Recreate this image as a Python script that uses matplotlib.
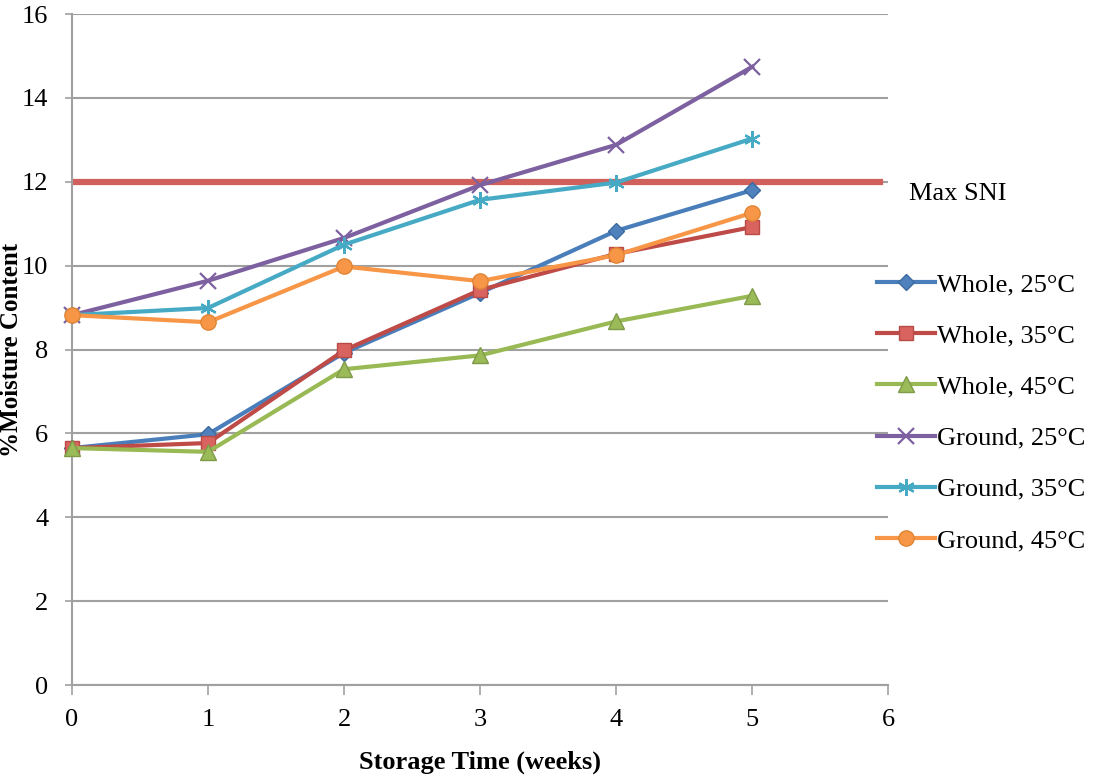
import matplotlib
matplotlib.use("Agg")
import matplotlib.pyplot as plt

weeks = [0, 1, 2, 3, 4, 5]
whole_25 = [5.65, 5.98, 7.92, 9.35, 10.83, 11.8]
whole_35 = [5.65, 5.77, 7.98, 9.42, 10.28, 10.92]
whole_45 = [5.65, 5.56, 7.53, 7.86, 8.67, 9.28]
ground_25 = [8.82, 9.64, 10.66, 11.92, 12.88, 14.74]
ground_35 = [8.82, 8.99, 10.5, 11.57, 11.98, 13.03]
ground_45 = [8.82, 8.65, 9.98, 9.63, 10.25, 11.26]
series_labels = ["Whole, 25°C", "Whole, 35°C", "Whole, 45°C",
                 "Ground, 25°C", "Ground, 35°C", "Ground, 45°C"]
max_sni = 12
x_ticks = [0, 1, 2, 3, 4, 5, 6]
y_ticks = [0, 2, 4, 6, 8, 10, 12, 14, 16]

serif = "Liberation Serif"
fig = plt.figure(figsize=(10.97, 7.78), dpi=100)
ax = fig.add_axes([0.0656, 0.1195, 0.744, 0.8625])

grid_c = "#a0a0a0"
ax.set_xlim(0, 6)
ax.set_ylim(0, 16)
ax.set_yticks(y_ticks)
ax.set_xticks(x_ticks)
ax.yaxis.grid(True, color=grid_c, lw=1.5)
ax.set_axisbelow(True)
for s in ["top", "right"]:
    ax.spines[s].set_visible(False)
for s in ["left", "bottom"]:
    ax.spines[s].set_color(grid_c)
    ax.spines[s].set_linewidth(1.5)
ax.tick_params(axis="x", direction="out", length=7, width=1.2, color=grid_c, pad=10)
ax.tick_params(axis="y", direction="out", length=5, width=1.2, color=grid_c, pad=12)
for lab in ax.get_xticklabels() + ax.get_yticklabels():
    lab.set_fontfamily(serif)
    lab.set_fontsize(19)

ax.axhline(max_sni, xmin=0, xmax=0.99, color="#cf605b", lw=4.5, zorder=2)
ax.text(1.025, (max_sni - 0.3) / 16, "Max SNI", transform=ax.transAxes,
        fontfamily=serif, fontsize=19, va="center", ha="left")

asterisk = (6, 2, 0)
styles = [
    (whole_25, "#4a7ebb", "D", 8, "#4f81bd", "#3a6a9f"),
    (whole_35, "#be4b48", "s", 10, "#d9635f", "#b94a47"),
    (whole_45, "#98b954", "^", 11, "#9bbb59", "#7f9a48"),
    (ground_25, "#7d60a0", "x", 11, "#7d60a0", "#7d60a0"),
    (ground_35, "#46aac5", asterisk, 12, "#46aac5", "#46aac5"),
    (ground_45, "#f79646", "o", 11, "#f79646", "#e08535"),
]
handles = []
for (vals, c, m, ms, fc, ec), lab in zip(styles, series_labels):
    mew = 1.6 if m in ("x", asterisk) else 1.0
    ln, = ax.plot(weeks, vals, color=c, lw=3, marker=m, ms=ms,
                  mfc=fc, mec=ec, mew=mew, label=lab, zorder=3,
                  clip_on=False)
    handles.append(ln)

ax.set_xlabel("Storage Time (weeks)", fontfamily=serif, fontsize=19,
              fontweight="bold", labelpad=14)
ax.set_ylabel("%Moisture Content", fontfamily=serif, fontsize=18,
              fontweight="bold")
ax.yaxis.set_label_coords(-0.06, 0.5)

leg = fig.legend(handles=handles, loc="upper left",
                 bbox_to_anchor=(0.79, 0.663), frameon=False,
                 prop={"family": serif, "size": 19}, handlelength=2.2,
                 handletextpad=0.05, labelspacing=1.05, borderaxespad=0)

fig.savefig("out.png", dpi=100)
